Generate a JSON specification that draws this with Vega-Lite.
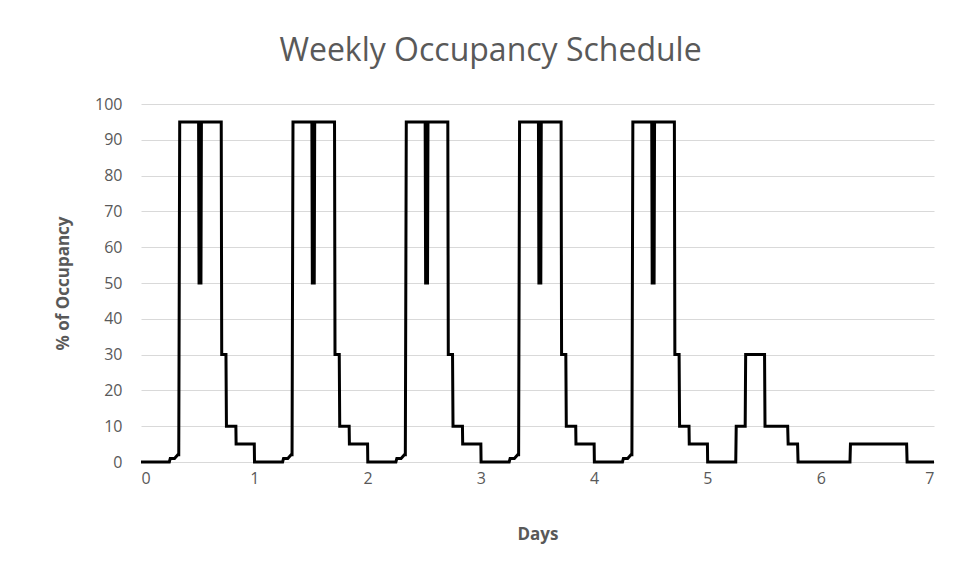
{
  "$schema": "https://vega.github.io/schema/vega-lite/v6.json",
  "width": 793,
  "height": 358,
  "autosize": {"type": "none"},
  "padding": {"left": 141, "top": 104, "right": 29, "bottom": 116},
  "background": "white",
  "title": {
    "text": "Weekly Occupancy Schedule",
    "font": "Open Sans",
    "fontSize": 32,
    "fontWeight": "normal",
    "color": "#595959",
    "anchor": "middle",
    "dx": -47,
    "offset": 28
  },
  "data": {
    "values": [
      {"day": 0, "occ": 0},
      {"day": 0.25, "occ": 0}, {"day": 0.2583, "occ": 1}, {"day": 0.2958, "occ": 1}, {"day": 0.325, "occ": 2}, {"day": 0.3333, "occ": 2}, {"day": 0.3417, "occ": 95}, {"day": 0.5083, "occ": 95}, {"day": 0.5125, "occ": 50}, {"day": 0.5292, "occ": 50}, {"day": 0.5333, "occ": 95}, {"day": 0.7083, "occ": 95}, {"day": 0.7125, "occ": 30}, {"day": 0.75, "occ": 30}, {"day": 0.7542, "occ": 10}, {"day": 0.8375, "occ": 10}, {"day": 0.8396, "occ": 5}, {"day": 1.0, "occ": 5}, {"day": 1.002, "occ": 0},
      {"day": 1.25, "occ": 0}, {"day": 1.2583, "occ": 1}, {"day": 1.2958, "occ": 1}, {"day": 1.325, "occ": 2}, {"day": 1.3333, "occ": 2}, {"day": 1.3417, "occ": 95}, {"day": 1.5083, "occ": 95}, {"day": 1.5125, "occ": 50}, {"day": 1.5292, "occ": 50}, {"day": 1.5333, "occ": 95}, {"day": 1.7083, "occ": 95}, {"day": 1.7125, "occ": 30}, {"day": 1.75, "occ": 30}, {"day": 1.7542, "occ": 10}, {"day": 1.8375, "occ": 10}, {"day": 1.8396, "occ": 5}, {"day": 2.0, "occ": 5}, {"day": 2.002, "occ": 0},
      {"day": 2.25, "occ": 0}, {"day": 2.2583, "occ": 1}, {"day": 2.2958, "occ": 1}, {"day": 2.325, "occ": 2}, {"day": 2.3333, "occ": 2}, {"day": 2.3417, "occ": 95}, {"day": 2.5083, "occ": 95}, {"day": 2.5125, "occ": 50}, {"day": 2.5292, "occ": 50}, {"day": 2.5333, "occ": 95}, {"day": 2.7083, "occ": 95}, {"day": 2.7125, "occ": 30}, {"day": 2.75, "occ": 30}, {"day": 2.7542, "occ": 10}, {"day": 2.8375, "occ": 10}, {"day": 2.8396, "occ": 5}, {"day": 3.0, "occ": 5}, {"day": 3.002, "occ": 0},
      {"day": 3.25, "occ": 0}, {"day": 3.2583, "occ": 1}, {"day": 3.2958, "occ": 1}, {"day": 3.325, "occ": 2}, {"day": 3.3333, "occ": 2}, {"day": 3.3417, "occ": 95}, {"day": 3.5083, "occ": 95}, {"day": 3.5125, "occ": 50}, {"day": 3.5292, "occ": 50}, {"day": 3.5333, "occ": 95}, {"day": 3.7083, "occ": 95}, {"day": 3.7125, "occ": 30}, {"day": 3.75, "occ": 30}, {"day": 3.7542, "occ": 10}, {"day": 3.8375, "occ": 10}, {"day": 3.8396, "occ": 5}, {"day": 4.0, "occ": 5}, {"day": 4.002, "occ": 0},
      {"day": 4.25, "occ": 0}, {"day": 4.2583, "occ": 1}, {"day": 4.2958, "occ": 1}, {"day": 4.325, "occ": 2}, {"day": 4.3333, "occ": 2}, {"day": 4.3417, "occ": 95}, {"day": 4.5083, "occ": 95}, {"day": 4.5125, "occ": 50}, {"day": 4.5292, "occ": 50}, {"day": 4.5333, "occ": 95}, {"day": 4.7083, "occ": 95}, {"day": 4.7125, "occ": 30}, {"day": 4.75, "occ": 30}, {"day": 4.7542, "occ": 10}, {"day": 4.8375, "occ": 10}, {"day": 4.8396, "occ": 5}, {"day": 5.0, "occ": 5}, {"day": 5.002, "occ": 0},
      {"day": 5.25, "occ": 0}, {"day": 5.2542, "occ": 10}, {"day": 5.3333, "occ": 10}, {"day": 5.3375, "occ": 30}, {"day": 5.5042, "occ": 30}, {"day": 5.5083, "occ": 10}, {"day": 5.7083, "occ": 10}, {"day": 5.7125, "occ": 5}, {"day": 5.7958, "occ": 5}, {"day": 5.8, "occ": 0},
      {"day": 6.2583, "occ": 0}, {"day": 6.2625, "occ": 5}, {"day": 6.7583, "occ": 5}, {"day": 6.7625, "occ": 0},
      {"day": 7, "occ": 0}
    ]
  },
  "mark": {"type": "line", "color": "black", "strokeWidth": 3, "strokeJoin": "miter", "strokeCap": "butt"},
  "encoding": {
    "x": {
      "field": "day",
      "type": "quantitative",
      "scale": {"domain": [0, 7], "nice": false, "zero": false},
      "axis": {
        "title": "Days",
        "values": [0, 1, 2, 3, 4, 5, 6, 7],
        "format": "d",
        "grid": false,
        "ticks": false,
        "domain": true,
        "domainColor": "#d9d9d9",
        "domainWidth": 1,
        "labelPadding": 8,
        "labelFont": "Open Sans",
        "labelFontSize": 16,
        "labelColor": "#595959",
        "titleFont": "Open Sans",
        "titleFontSize": 17,
        "titleFontWeight": "bold",
        "titleColor": "#595959",
        "titlePadding": 40
      }
    },
    "y": {
      "field": "occ",
      "type": "quantitative",
      "scale": {"domain": [0, 100], "nice": false},
      "axis": {
        "title": "% of Occupancy",
        "values": [0, 10, 20, 30, 40, 50, 60, 70, 80, 90, 100],
        "grid": true,
        "gridColor": "#d9d9d9",
        "gridWidth": 1,
        "ticks": false,
        "domain": false,
        "labelPadding": 19,
        "labelFont": "Open Sans",
        "labelFontSize": 16,
        "labelColor": "#595959",
        "titleFont": "Open Sans",
        "titleFontSize": 17,
        "titleFontWeight": "bold",
        "titleColor": "#595959",
        "titlePadding": 22
      }
    }
  },
  "config": {"view": {"stroke": null}}
}
